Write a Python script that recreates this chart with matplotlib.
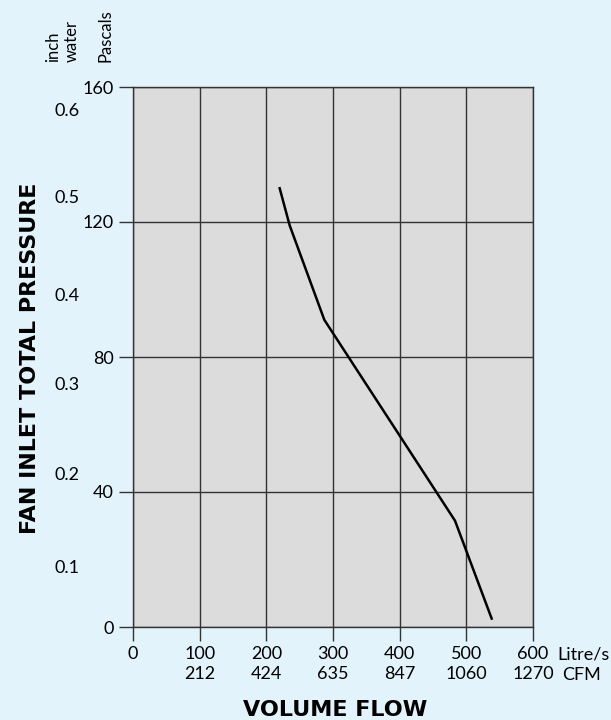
import matplotlib.pyplot as plt
import matplotlib.transforms as mtransforms

# curve (Litre/s, Pascals)
flow = [220, 235, 287, 483, 538]
pressure = [130, 119, 91, 31.5, 2.5]

x_ticks = [0, 100, 200, 300, 400, 500, 600]
cfm_labels = ["", "212", "424", "635", "847", "1060", "1270"]
pa_ticks = [0, 40, 80, 120, 160]
inch_labels = ["0.1", "0.2", "0.3", "0.4", "0.5", "0.6"]
inch_pos = [17.5, 45, 71.6, 98, 127, 153]  # where the inch labels sit, in Pa

plt.rcParams['font.family'] = ['Lato', 'DejaVu Sans']

fig = plt.figure(figsize=(6.11, 7.2), dpi=100)
fig.patch.set_facecolor('#e3f3fc')
ax = fig.add_axes([133 / 611, 93 / 720, 400 / 611, 540 / 720])
ax.set_facecolor('#dcdcdc')

ax.plot(flow, pressure, color='black', lw=1.8, solid_joinstyle='miter', zorder=3)

ax.set_xlim(0, 600)
ax.set_ylim(0, 160)
ax.set_xticks(x_ticks)
ax.set_xticklabels([f"{v}\n{c}" for v, c in zip(x_ticks, cfm_labels)], fontsize=13,
                   linespacing=1.25)
ax.set_yticks(pa_ticks)
ax.set_yticklabels([str(v) for v in pa_ticks], fontsize=13)
ax.tick_params(axis='both', length=10, width=1, color='#333333', pad=4)
ax.grid(True, color='#333333', lw=1)
ax.set_axisbelow(True)
for s in ax.spines.values():
    s.set_color('#333333')
    s.set_linewidth(1)

# inch water labels, no tick marks
trans = mtransforms.blended_transform_factory(ax.transAxes, ax.transData)
for lab, p in zip(inch_labels, inch_pos):
    ax.text(-0.165, p, lab, transform=trans, ha='center', va='center', fontsize=13)

# unit labels
ax.text(1.062, -0.05, "Litre/s", transform=ax.transAxes, ha='left', va='center', fontsize=13)
ax.text(1.072, -0.089, "CFM", transform=ax.transAxes, ha='left', va='center', fontsize=13)
fig.text(53 / 611, 1 - 62 / 720, "inch", rotation=90, ha='center', va='bottom', fontsize=12)
fig.text(72 / 611, 1 - 62 / 720, "water", rotation=90, ha='center', va='bottom', fontsize=12)
fig.text(105 / 611, 1 - 62 / 720, "Pascals", rotation=90, ha='center', va='bottom', fontsize=12)

fig.text(335 / 611, 1 - 716 / 720, "VOLUME FLOW", ha='center', va='baseline',
         fontsize=16, fontweight='bold', family='DejaVu Sans')
fig.text(30 / 611, 1 - 358 / 720, "FAN INLET TOTAL PRESSURE", rotation=90,
         ha='center', va='center', fontsize=16, fontweight='bold', family='DejaVu Sans')

fig.savefig('out.png', dpi=100, facecolor=fig.get_facecolor())
